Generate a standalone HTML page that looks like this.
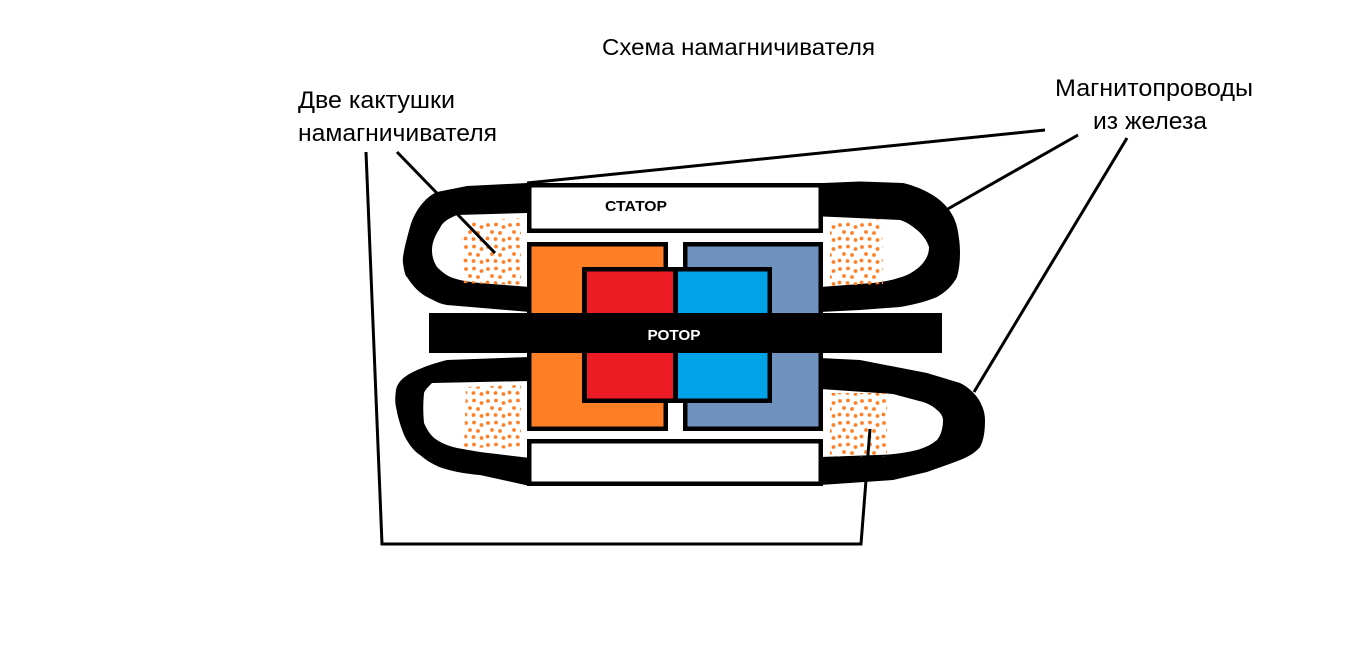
<!DOCTYPE html>
<html>
<head>
<meta charset="utf-8">
<style>
html,body{margin:0;padding:0;background:#fff;}
svg{display:block;}
text{font-family:"Liberation Sans","DejaVu Sans",sans-serif;}
</style>
</head>
<body>
<svg width="1356" height="659" viewBox="0 0 1356 659" xmlns="http://www.w3.org/2000/svg">
<defs>
<pattern id="d" patternUnits="userSpaceOnUse" width="22" height="22" x="1" y="2">
<circle cx="3" cy="3" r="1.9" fill="#FF7F27"/>
<circle cx="11" cy="2.5" r="1.9" fill="#FF7F27"/>
<circle cx="18.5" cy="5" r="1.9" fill="#FF7F27"/>
<circle cx="7" cy="10" r="1.9" fill="#FF7F27"/>
<circle cx="15" cy="11" r="1.9" fill="#FF7F27"/>
<circle cx="2.5" cy="16.5" r="1.9" fill="#FF7F27"/>
<circle cx="10.5" cy="17" r="1.9" fill="#FF7F27"/>
<circle cx="18.5" cy="18" r="1.9" fill="#FF7F27"/>
</pattern>
</defs>
<rect width="1356" height="659" fill="#fff"/>

<!-- Title -->
<text x="602" y="55" font-size="23" textLength="273" lengthAdjust="spacingAndGlyphs">Схема намагничивателя</text>

<!-- Left labels -->
<text x="298" y="108" font-size="24" textLength="157" lengthAdjust="spacingAndGlyphs">Две кактушки</text>
<text x="298" y="141" font-size="24" textLength="199" lengthAdjust="spacingAndGlyphs">намагничивателя</text>

<!-- Right labels -->
<text x="1055" y="96" font-size="24" textLength="198" lengthAdjust="spacingAndGlyphs">Магнитопроводы</text>
<text x="1093" y="129" font-size="24" textLength="114" lengthAdjust="spacingAndGlyphs">из железа</text>

<!-- Yokes -->
<path fill="#000" fill-rule="evenodd" d="M530,183 L527,183 L467,186 L437,192 C425,197 414,212 410,227 C405,245 402,258 403,263 C404,272 406,277 407,277 C414,288 420,293 427,297 C435,301 440,304 447,305 L530,312 Z
M530,213 L527,213 L457,215 C447,219 442,223 440,228 C434,237 432,244 432,250 C432,257 434,262 437,267 C442,272 447,276 453,278 C462,281 470,282 480,283 L530,287 Z"/>
<path fill="#000" fill-rule="evenodd" d="M820,183 L823,183 L860,181.5 L903,183 C920,187 935,195 943,203 C950,210 955,218 957,227 C959,236 960,245 960,253 C960,262 959,270 957,277 C953,285 946,292 937,297 C925,302 912,305 900,307 L860,310 L820,312 Z
M820,216.5 L823,216.5 L900,220 C907,222 912,226 917,230 C923,235 927,241 929,247 C929,253 927,258 923,263 C919,268 913,272 907,275 C897,279 885,282 873,283 L820,287 Z"/>
<path fill="#000" fill-rule="evenodd" d="M530,357 L447,360 C435,363 423,367 413,372 C403,377 397,383 396,390 C395,397 395,403 396,407 C398,418 401,428 405,437 C410,446 414,451 420,455 C427,461 434,465 442,468 C455,472 467,474 480,475 L530,486 Z
M530,381 L432,383 C428,387 425,390 424,393 C423,403 423,413 424,423 C428,432 432,437 437,440 C443,444 449,446 457,448 L480,452 L530,458 Z"/>
<path fill="#000" fill-rule="evenodd" d="M820,358 L860,360 L927,373 L960,383 C968,387 973,392 977,397 C982,404 985,412 985,420 C985,430 984,440 980,447 C975,453 968,457 960,460 C950,464 938,468 927,472 L893,480 L820,485 Z
M820,389 L893,394 L923,402 C929,404 934,407 937,410 C941,413 943,417 943,420 C943,428 941,435 937,440 C931,445 924,448 917,450 C905,453 890,455 877,455 L820,457 Z"/>

<!-- Coil dots -->
<polygon points="470,221 521,218 521,285 463,283 461,238" fill="url(#d)"/>
<polygon points="830,221 882,219 883,284 830,286" fill="url(#d)"/>
<polygon points="466,387 521,385 521,449 464,447" fill="url(#d)"/>
<polygon points="830,393 887,393 887,457 830,457" fill="url(#d)"/>

<!-- Top stator -->
<rect x="527" y="183" width="296" height="50" fill="#000"/>
<rect x="531.5" y="187.5" width="287" height="41" fill="#fff"/>
<text x="636" y="211" font-size="15" font-weight="bold" text-anchor="middle" textLength="62" lengthAdjust="spacingAndGlyphs">СТАТОР</text>

<!-- Orange box -->
<rect x="527" y="242" width="141" height="189" fill="#000"/>
<rect x="531.5" y="246.5" width="132" height="180" fill="#FF7F27"/>
<!-- Gray-blue box -->
<rect x="683" y="242" width="140" height="189" fill="#000"/>
<rect x="687.5" y="246.5" width="131" height="180" fill="#7092BE"/>
<!-- Red/blue magnet -->
<rect x="582" y="267" width="190" height="136" fill="#000"/>
<rect x="587" y="271.5" width="86" height="127" fill="#ED1C24"/>
<rect x="678" y="271.5" width="89.5" height="127" fill="#00A2E8"/>

<!-- Rotor bar -->
<rect x="429" y="313" width="513" height="40" fill="#000"/>
<text x="674" y="340" font-size="15" font-weight="bold" fill="#fff" text-anchor="middle" textLength="53" lengthAdjust="spacingAndGlyphs">РОТОР</text>

<!-- Bottom stator -->
<rect x="527" y="439" width="296" height="47" fill="#000"/>
<rect x="531.5" y="443.5" width="287" height="38" fill="#fff"/>

<!-- Leader lines -->
<g stroke="#000" stroke-width="3" fill="none" stroke-linecap="butt">
<polyline points="366,152 382,544 861,544 870,429"/>
<line x1="397" y1="152" x2="495" y2="253"/>
<line x1="1045" y1="130" x2="527" y2="183"/>
<line x1="1078" y1="135" x2="946" y2="210"/>
<line x1="1127" y1="138" x2="974" y2="392"/>
</g>
</svg>
</body>
</html>
